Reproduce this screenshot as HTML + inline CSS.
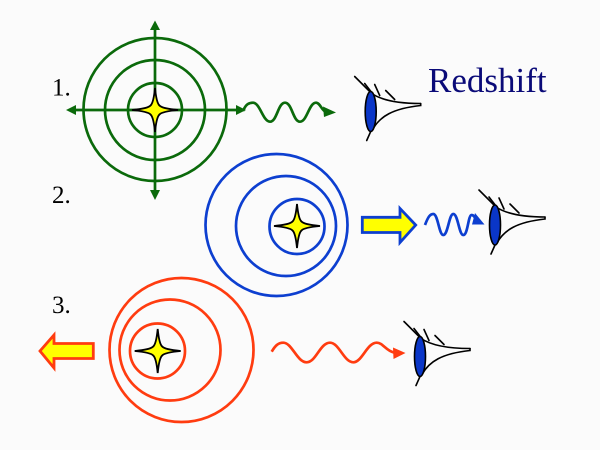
<!DOCTYPE html>
<html><head><meta charset="utf-8"><style>
html,body{margin:0;padding:0;background:#fbfbfb;}
svg{display:block;}
text{font-family:"Liberation Serif","Times New Roman",serif;}
</style></head><body>
<svg width="600" height="450" viewBox="0 0 600 450" xmlns="http://www.w3.org/2000/svg">
<defs>
  <path id="star" d="M0,-22 Q1.5,-7 4.5,-4.5 Q7,-1.5 23,0 Q7,1.5 4.5,4.5 Q1.5,7 0,22 Q-1.5,7 -4.5,4.5 Q-7,1.5 -23,0 Q-7,-1.5 -4.5,-4.5 Q-1.5,-7 0,-22 Z" fill="#ffff00" stroke="#000" stroke-width="1.8" stroke-linejoin="miter"/>
  <g id="eye" fill="none" stroke="#000" stroke-width="1.6" stroke-linecap="round">
    <path d="M-16,-35 L-1,-20"/>
    <path d="M0,20 L-4,29"/>
    <path d="M-6,-28 L1,-19"/>
    <path d="M4,-27 L9,-16"/>
    <path d="M15,-21 L24,-12"/>
    <path d="M1,-18 C10,-12 24,-8 50,-8"/>
    <path d="M2,18 C9,5 22,-3 50,-6 L50,-8"/>
    <ellipse cx="0" cy="0" rx="5.5" ry="20" fill="#0a36c8" stroke="#000" stroke-width="1.6"/>
  </g>
</defs>
<rect width="600" height="450" fill="#fbfbfb"/>

<!-- labels -->
<text x="52" y="95.5" font-size="25" fill="#000">1.</text>
<text x="52" y="203" font-size="25" fill="#000">2.</text>
<text x="52" y="313" font-size="25" fill="#000">3.</text>
<text x="428" y="92" font-size="35" fill="#0a0a78">Redshift</text>

<!-- Scene 1 green -->
<g stroke="#0b6a0b" stroke-width="2.7" fill="none">
  <circle cx="155" cy="109.5" r="71.5"/>
  <circle cx="155" cy="110" r="50"/>
  <circle cx="155" cy="110" r="27"/>
  <line x1="155" y1="28" x2="155" y2="192"/>
  <line x1="73" y1="110" x2="237" y2="110"/>
  <path d="M243,111 C246,104 249,102.7 253,102.7 C260,102.7 263,121.7 270,121.7 C277,121.7 278,102.7 285,102.7 C292,102.7 293,121.7 300,121.7 C307,121.7 309,102.7 316,102.7 C320,102.7 322,111 326,112"/>
</g>
<g fill="#0b6a0b">
  <polygon points="155,20.5 150,30 160,30"/>
  <polygon points="155,200 150,190 160,190"/>
  <polygon points="66,110 76,105 76,115"/>
  <polygon points="246,110 236,105 236,115"/>
  <polygon points="336,112.5 323,106.5 324,117"/>
</g>
<use href="#star" x="155" y="110"/>
<use href="#eye" x="370.7" y="111.5"/>

<!-- Scene 2 blue -->
<g stroke="#0d3fd0" stroke-width="2.7" fill="none">
  <circle cx="276.5" cy="225" r="71"/>
  <circle cx="286" cy="226" r="50"/>
  <circle cx="297" cy="226.5" r="27.5"/>
  <path d="M425,225 C428,217 430,214 433.3,214 C438,214 439,235 443.3,235 C448,235 449,214 453.3,214 C458,214 459,235 463.3,235 C468,235 468,215 471.7,215 C474,215 475,218 477,221"/>
</g>
<polygon points="475,213 484.5,224.5 472,224.5" fill="#0d3fd0"/>
<use href="#star" x="297" y="226"/>
<polygon points="362.3,217.3 400,217.3 400,208.5 415.7,225 400,242.5 400,232.5 362.3,232.5" fill="#ffff00" stroke="#0d3fd0" stroke-width="2.8" stroke-linejoin="miter"/>
<use href="#eye" x="495" y="225"/>

<!-- Scene 3 red -->
<g stroke="#ff3c10" stroke-width="2.7" fill="none">
  <circle cx="181.5" cy="350" r="72"/>
  <circle cx="170" cy="350" r="50.5"/>
  <circle cx="157.5" cy="351" r="27.5"/>
  <path d="M271.7,351.7 C275,346 278,342.7 283.3,342.7 C292,342.7 297,362.3 306.7,362.3 C316,362.3 320,342.7 330,342.7 C339,342.7 344,362.3 353.3,362.3 C362,362.3 367,342.7 376.7,342.7 C383,342.7 386,351 394,352.5"/>
</g>
<polygon points="405.5,353 393,347.5 393.5,359" fill="#ff3c10"/>
<use href="#star" x="157.7" y="351"/>
<polygon points="93.3,343.5 54,343.5 54,335 40,351 54,368 54,358.5 93.3,358.5" fill="#ffff00" stroke="#ff3c10" stroke-width="2.8" stroke-linejoin="miter"/>
<use href="#eye" x="420" y="356.5"/>
</svg>
</body></html>
